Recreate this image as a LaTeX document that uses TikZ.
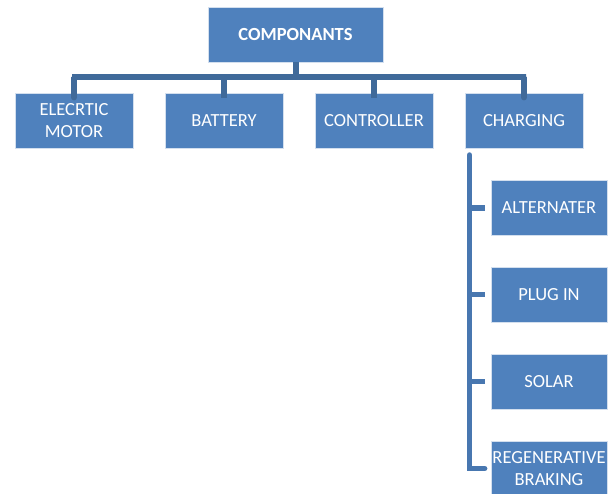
\documentclass[tikz,border=0pt]{standalone}
\usepackage{fontspec}
\setmainfont{Carlito}
\definecolor{boxblue}{RGB}{79,129,189}
\definecolor{busblue}{RGB}{64,106,154}
\definecolor{sideblue}{RGB}{72,119,176}

\begin{document}
\begin{tikzpicture}[x=1pt, y=-1pt,
  box/.style={fill=boxblue, draw=white!75!boxblue, line width=0.7pt,
    minimum width=118pt, minimum height=55pt, inner sep=0pt,
    text=white, align=center, font=\fontsize{18.5}{21.5}\selectfont},
  bus/.style={draw=busblue, line width=5.5pt},
  side/.style={draw=sideblue, line width=5.5pt}]
  \useasboundingbox (0,0) rectangle (613,493);

  % top
  \node[box, minimum width=175pt, font=\fontsize{18.5}{21.5}\selectfont\bfseries] (top) at (295.5,34.5) {COMPONANTS};

  % second row
  \node[box] (motor) at (74,120.5) {ELECRTIC\\MOTOR};
  \node[box] (battery) at (224,120.5) {BATTERY};
  \node[box] (ctrl) at (374,120.5) {CONTROLLER};
  \node[box] (charge) at (524,120.5) {CHARGING};

  % charging children
  \node[box, minimum width=116pt] (alt) at (549,208) {ALTERNATER};
  \node[box, minimum width=116pt] (plug) at (549,294.5) {PLUG IN};
  \node[box, minimum width=116pt] (solar) at (549,381.5) {SOLAR};
  \node[box, minimum width=116pt] (regen) at (549,468.5) {REGENERATIVE\\BRAKING};

  % tree lines
  \coordinate (stem) at (296,77);
  \coordinate (busL) at (72,77);
  \coordinate (busR) at (526,77);
  \draw[bus] (top.south -| stem) -- (stem);
  \draw[bus, line cap=round] ([yshift=-5pt]motor.north) |- (busL) -- (busR) -| ([yshift=-5pt]charge.north);
  \draw[bus] ([yshift=-5pt]battery.north) -- (battery.north |- busL);
  \draw[bus] ([yshift=-5pt]ctrl.north) -- (ctrl.north |- busL);

  \coordinate (sideT) at (469.5,155);
  \draw[side, line cap=round] (sideT) |- ([xshift=-6pt]regen.west);
  \foreach \n in {alt,plug,solar}
    \draw[side] (sideT |- \n.west) -- ([xshift=-6pt]\n.west);
\end{tikzpicture}
\end{document}
